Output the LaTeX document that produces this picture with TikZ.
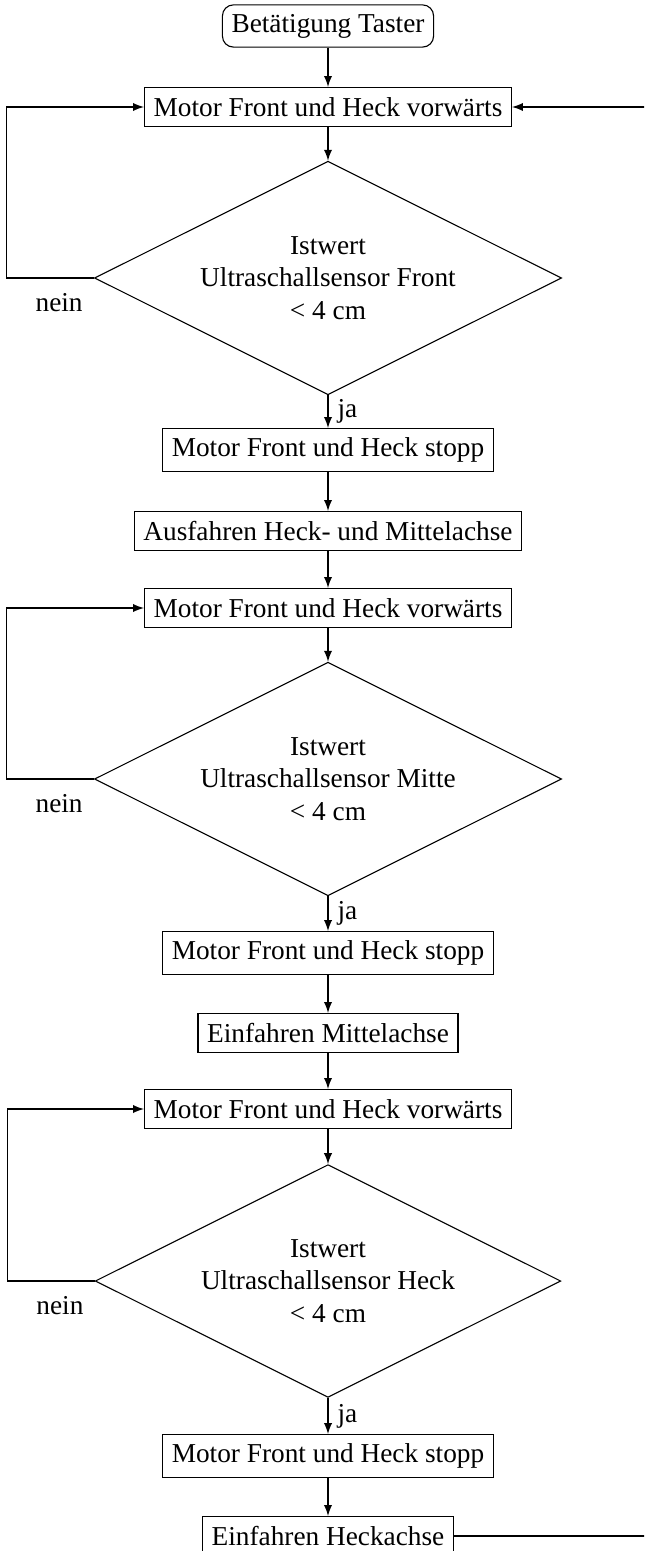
\documentclass[tikz,border=0pt]{standalone}
\usepackage{fontspec}
\setmainfont{Liberation Serif}
\usetikzlibrary{shapes.geometric}

\tikzset{
  startbox/.style={draw, rounded corners, minimum height=14.3pt},
  actbox/.style={draw, minimum height=14.3pt},
  query/.style={draw, diamond, aspect=2, inner sep=2.7pt, align=center},
  flow/.style={-latex},
}

\begin{document}
\begin{tikzpicture}[x=0.3663pt, y=-0.3663pt]
    \useasboundingbox (0,0) rectangle (644,1551);
    \clip (0,0) rectangle (644,1551);

    \node[startbox] (start) at (328,26) {Betätigung Taster};

    % Front
    \node[actbox] (fwdA) at (328,107) {Motor Front und Heck vorwärts};
    \node[query] (qA) at (328,278) {Istwert\\Ultraschallsensor Front\\< 4 cm};
    \node[actbox] (stopA) at (328,450) {Motor Front und Heck stopp};
    \node[actbox] (ausA) at (328,531) {Ausfahren Heck- und Mittelachse};

    % Mitte
    \node[actbox] (fwdB) at (328,608) {Motor Front und Heck vorwärts};
    \node[query] (qB) at (328,779) {Istwert\\Ultraschallsensor Mitte\\< 4 cm};
    \node[actbox] (stopB) at (328,953) {Motor Front und Heck stopp};
    \node[actbox] (einB) at (328,1033) {Einfahren Mittelachse};

    % Heck
    \node[actbox] (fwdC) at (328,1109) {Motor Front und Heck vorwärts};
    \node[query] (qC) at (328,1281) {Istwert\\Ultraschallsensor Heck\\< 4 cm};
    \node[actbox] (stopC) at (328,1456) {Motor Front und Heck stopp};
    \node[actbox] (einC) at (328,1536) {Einfahren Heckachse};

    \draw[flow] (start) -- (fwdA);
    \draw[flow] (fwdA) -- (qA);
    \draw[flow] (qA) -- node[right]{ja} (stopA);
    \draw[flow] (stopA) -- (ausA);
    \draw[flow] (ausA) -- (fwdB);
    \draw[flow] (fwdB) -- (qB);
    \draw[flow] (qB) -- node[right]{ja} (stopB);
    \draw[flow] (stopB) -- (einB);
    \draw[flow] (einB) -- (fwdC);
    \draw[flow] (fwdC) -- (qC);
    \draw[flow] (qC) -- node[right]{ja} (stopC);
    \draw[flow] (stopC) -- (einC);

    % Schleifen nein
    \foreach \q/\f in {qA/fwdA, qB/fwdB, qC/fwdC}
        \draw[flow] (\q.west) -- node[pos=0.4, below, yshift=-2]{nein} ++(-87,0) |- (\f.west);

    % zurueck zum Anfang
    \draw[flow] (einC.east) -- ++(260,0) |- (fwdA.east);

\end{tikzpicture}
\end{document}
